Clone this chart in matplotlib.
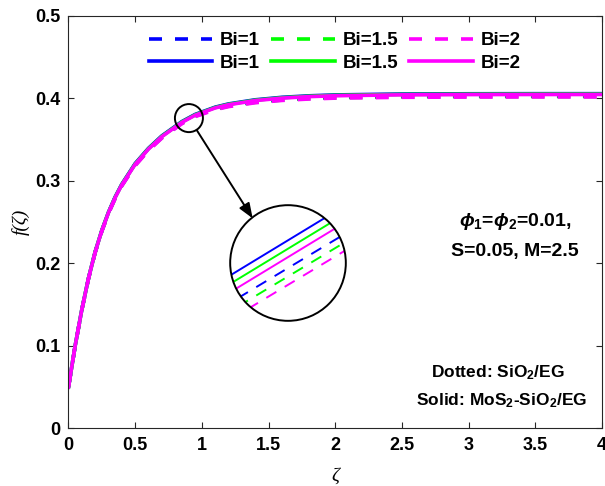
import matplotlib
matplotlib.use("Agg")
import matplotlib.pyplot as plt
from matplotlib.patches import Ellipse, Circle

plt.rcParams['font.family'] = ['Liberation Sans', 'DejaVu Sans']
plt.rcParams['font.weight'] = 'bold'
plt.rcParams['mathtext.fontset'] = 'custom'
plt.rcParams['mathtext.rm'] = 'Liberation Sans:bold'
plt.rcParams['mathtext.it'] = 'Liberation Sans:italic:bold'
plt.rcParams['mathtext.bf'] = 'Liberation Sans:bold'

# ---------------- data ----------------
zeta = [0, 0.05, 0.1, 0.15, 0.2, 0.25, 0.3, 0.35, 0.4, 0.5, 0.6, 0.7, 0.85, 0.95,
        1.1, 1.2, 1.4, 1.6, 1.8, 2.0, 2.5, 3.0, 3.5, 4.0]

solid_bi1 = [0.0500, 0.1000, 0.1440, 0.1820, 0.2140, 0.2400, 0.2620, 0.2805, 0.2960, 0.3210,
             0.3395, 0.3545, 0.3718, 0.3805, 0.3893, 0.3932, 0.3982, 0.4012, 0.4030, 0.4041,
             0.4052, 0.4055, 0.4056, 0.4056]
solid_bi15 = [0.0500, 0.1000, 0.1439, 0.1819, 0.2138, 0.2398, 0.2617, 0.2801, 0.2956, 0.3205,
              0.3390, 0.3540, 0.3713, 0.3800, 0.3888, 0.3927, 0.3977, 0.4007, 0.4025, 0.4036,
              0.4047, 0.4050, 0.4051, 0.4051]
solid_bi2 = [0.0500, 0.1000, 0.1438, 0.1818, 0.2136, 0.2396, 0.2614, 0.2797, 0.2952, 0.3200,
             0.3385, 0.3535, 0.3708, 0.3795, 0.3883, 0.3922, 0.3972, 0.4002, 0.4020, 0.4031,
             0.4042, 0.4045, 0.4046, 0.4046]
dash_bi1 = [0.0500, 0.0998, 0.1436, 0.1815, 0.2133, 0.2392, 0.2610, 0.2792, 0.2946, 0.3193,
            0.3377, 0.3527, 0.3702, 0.3788, 0.3872, 0.3909, 0.3956, 0.3984, 0.4001, 0.4012,
            0.4022, 0.4025, 0.4026, 0.4026]
dash_bi15 = [0.0500, 0.0998, 0.1435, 0.1814, 0.2131, 0.2390, 0.2607, 0.2788, 0.2942, 0.3188,
             0.3372, 0.3522, 0.3697, 0.3783, 0.3867, 0.3904, 0.3951, 0.3979, 0.3996, 0.4007,
             0.4017, 0.4020, 0.4021, 0.4021]
dash_bi2 = [0.0500, 0.0998, 0.1434, 0.1813, 0.2129, 0.2388, 0.2604, 0.2784, 0.2938, 0.3183,
            0.3367, 0.3517, 0.3692, 0.3778, 0.3862, 0.3899, 0.3946, 0.3974, 0.3991, 0.4002,
            0.4012, 0.4015, 0.4016, 0.4016]

labels = ['Bi=1', 'Bi=1.5', 'Bi=2']
colors = ['#0000FF', '#00FF00', '#FF00FF']
xticks = [0, 0.5, 1, 1.5, 2, 2.5, 3, 3.5, 4]
xticklabels = ['0', '0.5', '1', '1.5', '2', '2.5', '3', '3.5', '4']
yticks = [0, 0.1, 0.2, 0.3, 0.4, 0.5]
yticklabels = ['0', '0.1', '0.2', '0.3', '0.4', '0.5']

dashed = [dash_bi1, dash_bi15, dash_bi2]
solid = [solid_bi1, solid_bi15, solid_bi2]

# ---------------- figure ----------------
fig = plt.figure(figsize=(6.05, 4.86), dpi=100)
ax = fig.add_axes([0.1132, 0.1187, 0.8818, 0.8488])

handles = []
for d, s, c, lab in zip(dashed, solid, colors, labels):
    hd, = ax.plot(zeta, d, color=c, lw=2.6, linestyle=(0, (3.6, 3.6)), label=lab)
    hs, = ax.plot(zeta, s, color=c, lw=2.6, linestyle='-', label=lab)
    handles += [hd, hs]

ax.set_xlim(0, 4)
ax.set_ylim(0, 0.5)
ax.set_xticks(xticks)
ax.set_xticklabels(xticklabels)
ax.set_yticks(yticks)
ax.set_yticklabels(yticklabels)
ax.tick_params(direction='in', length=4, width=0.8, top=True, right=True,
               labelsize=13, colors='#262626', labelcolor='black', pad=6)
for sp in ax.spines.values():
    sp.set_color('#262626')
    sp.set_linewidth(0.8)

ax.set_ylabel('f(ζ)', fontfamily='Liberation Serif', fontstyle='italic',
              fontweight='normal', fontsize=14)
ax.yaxis.set_label_coords(-0.072, 0.5)
ax.set_xlabel('ζ', fontfamily='Liberation Serif', fontstyle='italic',
              fontweight='normal', fontsize=14)
ax.xaxis.set_label_coords(0.5, -0.095)

leg = ax.legend(handles=handles, ncol=3, loc='center', bbox_to_anchor=(0.4986, 0.912),
                frameon=False, fontsize=13.5, handlelength=3.4, handletextpad=0.4,
                columnspacing=0.6, labelspacing=0.3, borderpad=0)

# small circle + arrow
ax.add_patch(Ellipse((0.903, 0.376), 0.21, 0.034, fill=False, lw=1.4, color='black', zorder=5))
ax.annotate('', xy=(1.381, 0.2545), xytext=(0.961, 0.3616),
            arrowprops=dict(arrowstyle='-|>,head_length=0.9,head_width=0.35',
                            color='black', lw=1.4, shrinkA=0, shrinkB=0))

# texts
ax.text(0.837, 0.5025, r'$\phi_1$=$\phi_2$=0.01,', transform=ax.transAxes,
        ha='center', va='center', fontsize=14, fontweight='bold')
ax.text(0.837, 0.4286, 'S=0.05, M=2.5', transform=ax.transAxes,
        ha='center', va='center', fontsize=14, fontweight='bold')
ax.text(0.9306, 0.1244, 'Dotted: SiO$_2$/EG', transform=ax.transAxes,
        ha='right', va='baseline', fontsize=12.5, fontweight='bold')
ax.text(0.972, 0.0565, 'Solid: MoS$_2$-SiO$_2$/EG', transform=ax.transAxes,
        ha='right', va='baseline', fontsize=12.5, fontweight='bold')

# zoomed inset inside big circle
axin = fig.add_axes([(288 - 59) / 605, (486 - 263 - 59) / 486, 118 / 605, 118 / 486])
axin.set_xlim(0.8755, 0.9245)
axin.set_ylim(0.37129, 0.37831)
axin.axis('off')
circ = Circle((0.5, 0.5), 0.49, transform=axin.transAxes, fill=False, lw=1.4,
              color='black', clip_on=False, zorder=5)
axin.add_patch(circ)
for d, s, c in zip(dashed, solid, colors):
    l1, = axin.plot(zeta, s, color=c, lw=1.4, linestyle='-')
    l2, = axin.plot(zeta, d, color=c, lw=1.4, linestyle=(0, (6, 5)))
    l1.set_clip_path(circ)
    l2.set_clip_path(circ)

fig.savefig('out.png', dpi=100)
